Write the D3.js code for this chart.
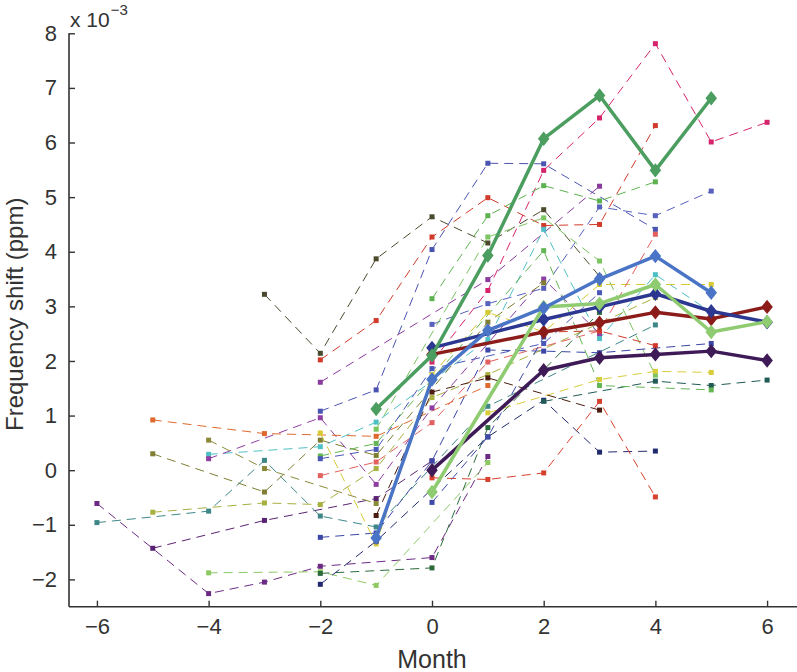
<!DOCTYPE html>
<html><head><meta charset="utf-8">
<script src="https://cdn.jsdelivr.net/npm/d3@7"></script>
<style>
html,body{margin:0;padding:0;background:#fff;}
svg{display:block;font-family:"Liberation Sans",Arial,Helvetica,sans-serif;}
</style></head>
<body>
<svg id="chart" width="797" height="672"></svg>
<script>
// ---- data ----
const xTicks = [-6, -4, -2, 0, 2, 4, 6];
const yTicks = [-2, -1, 0, 1, 2, 3, 4, 5, 6, 7, 8];
const xLabel = "Month";
const yLabel = "Frequency shift (ppm)";

// individual subjects (month, value ×10^-3)
const subjectSeries = [
  [[-3,3.22],[-2,2.14],[-1,3.87],[0,4.64],[1,4.16],[2,4.77],[3,3.55]],
  [[-2,2.02],[-1,2.74],[0,4.27],[1,4.99],[2,4.48],[3,4.5],[4,6.31]],
  [[0,1.98],[1,3.29],[2,5.49],[3,6.45],[4,7.81],[5,6.01],[6,6.37]],
  [[-2,1.08],[-1,1.47],[0,4.04],[1,5.62],[2,5.61],[4,4.41]],
  [[0,2.67],[1,3.05],[2,3.33],[3,4.82],[4,4.66],[5,5.11]],
  [[0,3.14],[1,4.66],[2,5.21],[3,4.93],[4,5.28]],
  [[-1,0.75],[1,4.27],[2,4.62],[3,3.83],[4,1.74]],
  [[-4,0.29],[-2,0.43],[-1,0.88],[1,2.39],[2,4.41],[3,2.41],[4,3.58],[5,2.89]],
  [[-4,0.21],[-2,0.96],[-1,-0.26],[0,1.14],[2,3.5],[3,2.5]],
  [[-6,-0.61],[-4,-2.26],[-3,-2.05],[-2,-1.76],[0,-1.6],[1,0.25]],
  [[-5,-1.43],[-3,-0.92],[-1,-0.52],[0,0.17]],
  [[-2,-1.23],[-1,-1.15],[0,0.17],[1,2.2],[2,2.18],[3,2.15],[5,2.32]],
  [[-6,-0.96],[-4,-0.75],[-3,0.18],[-2,-0.84],[-1,-1.04],[1,1.17],[4,2.66]],
  [[-5,0.92],[-3,0.67],[-1,0.62],[1,1.55]],
  [[-5,0.3],[-3,-0.4],[-2,0.55],[-1,0.27],[1,2.71],[2,3.43]],
  [[-5,-0.77],[-3,-0.6],[-2,-0.63],[-1,0.03],[0,1.33],[1,1.75],[4,3.16]],
  [[-4,0.55],[-3,0.03],[-1,-0.61]],
  [[-2,0.68],[-1,-1.35],[0,1.75],[1,2.89],[2,2.53],[3,3.4],[5,3.4]],
  [[1,1.05],[3,1.66],[4,1.81],[5,1.79]],
  [[-4,-1.88],[-2,-1.86],[-1,-2.11],[1,0.14]],
  [[-2,-1.89],[0,-1.79],[1,0.78],[3,2.89]],
  [[-2,-2.09],[-1,-1.3],[1,0.61],[2,1.28],[3,0.33],[4,0.35]],
  [[-1,-0.83],[0,1.43],[1,1.69],[3,1.1]],
  [[-2,-0.1],[-1,0.15],[0,0.87],[1,1.98],[3,2.55],[4,4.32]],
  [[0,-0.14],[1,-0.17],[2,-0.05],[3,1.26],[4,-0.49]],
  [[2,1.26],[4,1.63],[5,1.55],[6,1.65]],
  [[-2,0.26],[-1,0.49],[2,4.02],[3,1.55],[5,1.47]],
  [[-2,0.21],[-1,0.38],[0,1.86],[2,2.32],[3,3.25]],
  [[0,-0.59],[1,0.61],[2,2.44]],
  [[2,2.53],[3,2.55],[4,2.28]],
  [[-2,1.61],[1,3.49],[3,5.2]]
];
const subjectColors = [
  "#4b4a2d","#d23b2c","#d6236b","#4b53b1","#5862bd","#5db250","#7ac560","#4ec0c5",
  "#8e3ea2","#6d2a85","#5a2272","#3b46a7","#3e8787","#e0692f","#7f7e33","#a8b040",
  "#8a8a38","#d6c932","#d8cc3a","#8dc963","#2c6b3c","#222a6e","#4a1c12","#e2605e",
  "#d8402e","#1f5a55","#64b555","#4a58b8","#3d4aa8","#cf3a2a","#8a3b9d"
];

// group means (bold lines with diamonds)
const meanGreen     = [[-1,1.12],[0,2.1],[1,3.93],[2,6.07],[3,6.86],[4,5.49],[5,6.81]];
const meanBlue      = [[-1,-1.24],[0,1.66],[1,2.56],[2,2.97],[3,3.5],[4,3.92],[5,3.25]];
const meanNavy      = [[0,2.24],[2,2.76],[3,2.99],[4,3.23],[5,2.91],[6,2.71]];
const meanRed       = [[0,2.12],[2,2.53],[3,2.7],[4,2.89],[5,2.77],[6,2.99]];
const meanLightGreen= [[0,-0.4],[2,2.99],[3,3.05],[4,3.4],[5,2.53],[6,2.72]];
const meanPurple    = [[0,0.0],[2,1.83],[3,2.06],[4,2.12],[5,2.18],[6,2.01]];
const meanSeries = [meanRed, meanPurple, meanNavy, meanLightGreen, meanBlue, meanGreen];
const meanColors = ["#8c1c1a", "#3e1a57", "#2b3790", "#8fcb70", "#4a74c6", "#4b9e60"];

// ---- drawing ----
const svg = d3.select("#chart");
const x = d3.scaleLinear().domain([-6.5, 6.5]).range([69, 795]);
const y = d3.scaleLinear().domain([-2.5, 8]).range([606.7, 33.3]);
const axisColor = "#333";

const line = d3.line().x(d => x(d[0])).y(d => y(d[1]));

// subjects
const subj = svg.append("g");
subjectSeries.forEach((s, i) => {
  const c = subjectColors[i];
  subj.append("path").datum(s).attr("d", line)
    .attr("fill", "none").attr("stroke", c).attr("stroke-width", 1)
    .attr("stroke-dasharray", "9,6");
});
subjectSeries.forEach((s, i) => {
  const c = subjectColors[i];
  subj.selectAll(null).data(s).enter().append("rect")
    .attr("x", d => x(d[0]) - 2.5).attr("y", d => y(d[1]) - 2.5)
    .attr("width", 5).attr("height", 5).attr("fill", c);
});

// means
const means = svg.append("g");
const diamond = d3.symbol().type(d3.symbolDiamond2).size(85);
meanSeries.forEach((s, i) => {
  const c = meanColors[i];
  means.append("path").datum(s).attr("d", line)
    .attr("fill", "none").attr("stroke", c).attr("stroke-width", 3.5)
    .attr("stroke-linejoin", "round");
  means.selectAll(null).data(s).enter().append("path")
    .attr("d", diamond)
    .attr("transform", d => `translate(${x(d[0])},${y(d[1])}) scale(1,1.25)`)
    .attr("fill", c);
});

// axes
const fmt = d => d < 0 ? "\u2212" + Math.abs(d) : d;
const xAxis = d3.axisBottom(x).tickValues(xTicks).tickSize(-6).tickPadding(12).tickFormat(fmt);
const gx = svg.append("g").attr("transform", `translate(0,${y(-2.5)})`).call(xAxis);
const yAxis = d3.axisLeft(y).tickValues(yTicks).tickSize(-6).tickPadding(12).tickFormat(fmt);
const gy = svg.append("g").attr("transform", `translate(${x(-6.5)},0)`).call(yAxis);
[gx, gy].forEach(g => {
  g.select(".domain").attr("stroke", axisColor).attr("stroke-width", 1.6);
  g.selectAll(".tick line").attr("stroke", axisColor).attr("stroke-width", 1.4);
  g.selectAll(".tick text").attr("fill", axisColor)
    .attr("font-size", 22).attr("font-family", "'Liberation Sans',Arial,sans-serif");
});
gx.select(".domain").attr("d", `M${x(-6.5)},0H797`);
gy.select(".domain").attr("d", `M0,${y(8)}V${y(-2.5)}`);

// labels
svg.append("text").attr("x", x(0)).attr("y", 668)
  .attr("text-anchor", "middle").attr("font-size", 25).attr("fill", axisColor)
  .text(xLabel);
svg.append("text").attr("transform", "translate(23,431) rotate(-90)")
  .attr("text-anchor", "start").attr("font-size", 24).attr("fill", axisColor)
  .text(yLabel);
const mult = svg.append("text").attr("x", 70).attr("y", 27)
  .attr("font-size", 21).attr("fill", axisColor);
mult.append("tspan").text("x 10");
mult.append("tspan").attr("dy", -12).attr("dx", 1).attr("font-size", 15).text("\u22123");
</script>
</body></html>
